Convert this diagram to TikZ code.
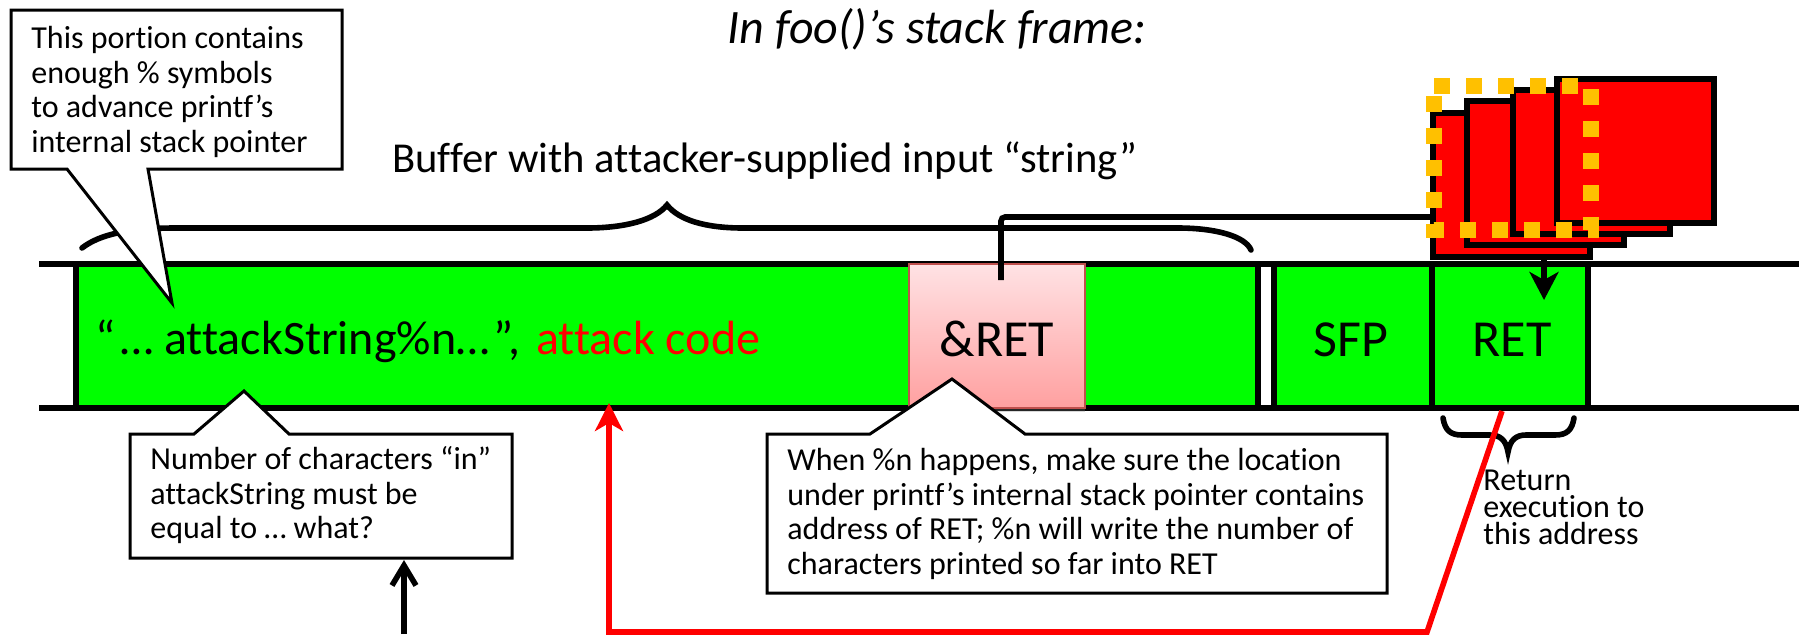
\documentclass[tikz,border=0pt]{standalone}
\usepackage{fontspec}
\setmainfont{Carlito}[Ligatures=NoCommon]
\usetikzlibrary{arrows.meta,shadows}
\definecolor{dotorange}{HTML}{FFC000}
\definecolor{addrtop}{HTML}{FFE2E4}
\definecolor{addrbot}{HTML}{FFA0A0}
\definecolor{addredge}{HTML}{C0504D}
\begin{document}
\begin{tikzpicture}[
x=0.5pt,y=-0.5pt,
cell/.style={rectangle, draw=black, fill=green, line width=3pt, inner sep=0pt, minimum height=72pt},
page/.style={rectangle, draw=black, fill=red, line width=3pt, minimum width=78.5pt, minimum height=72pt},
callout/.style={draw=black, fill=white, line width=1.5pt, line join=miter},
wire/.style={draw=black, line width=2.8pt},
brace/.style={draw=black, line width=2.8pt, line cap=round},
redwire/.style={draw=red, line width=2.8pt},
note/.style={anchor=north west, align=left, inner sep=0pt, font=\fontsize{16}{17.3}\selectfont},
label/.style={anchor=base west, inner sep=0pt},
big/.style={anchor=base, inner sep=0pt, font=\fontsize{26}{30}\selectfont},
]
\useasboundingbox (0,0) rectangle (1799,634);

\node (title) [label, font=\fontsize{24}{28}\itshape\selectfont] at (727,43) {In foo()’s stack frame:};
\node (buflabel) [label, font=\fontsize{21.3}{25}\selectfont] at (392,172) {Buffer with attacker-supplied input “string”};

\draw[wire] (39,264) -- (1799,264);
\draw[wire] (39,408) -- (1799,408);

\node (buffer) [cell, minimum width=591pt] at (667,336) {};
\node (sfp) [cell, minimum width=79pt] at (1353,336) {};
\node (ret) [cell, minimum width=78pt] at (1510,336) {};
\node (attack) [label, font=\fontsize{24}{28}\selectfont] at (95,354) {“\hspace{2.5pt}… attackString\%n…\hspace{2pt}”,};
\node (code) [label, font=\fontsize{24}{28}\selectfont, text=red] at (536,354) {attack code};
\node (addr) [rectangle, draw=addredge, line width=1pt, top color=addrtop, bottom color=addrbot, minimum width=88pt, minimum height=72pt, inner sep=0pt, drop shadow={shadow xshift=0pt, shadow yshift=-2pt, opacity=.3}] at (997,336) {};
\node (addrtext) [big] at (997,356) {\&RET};
\node (sfptext) [big] at (1351,356) {SFP};
\node (rettext) [big] at (1512,356) {RET};

% braces
\draw[brace] (82,248) .. controls (100,234) and (130,228) .. (175,228) -- (587,228) .. controls (625,228) and (655,220) .. (667,205) .. controls (679,220) and (705,228) .. (743,228) -- (1178,228) .. controls (1215,228) and (1245,236) .. (1251,250);
\draw[brace] (1443,418) .. controls (1445,430) and (1450,435) .. (1462,435) -- (1490,435) .. controls (1500,435) and (1506,440) .. (1508,452) .. controls (1510,440) and (1516,435) .. (1526,435) -- (1555,435) .. controls (1567,435) and (1572,430) .. (1574,418);

\node foreach \n/\x/\y in {4/1511.5/185,3/1545.5/173,2/1591.5/162,1/1635.5/151} at (\x,\y) [page, name=page\n] {};
\draw[dotorange, line width=8pt, dash pattern=on 8pt off 8pt] (1434,86) -- (1591,86) -- (1591,230) -- (1434,230) -- cycle;

\coordinate (addrfoot) at (1001,280);
\coordinate (hook) at (1433,217);
\draw[wire, rounded corners=2pt] (addrfoot) |- (hook);
\coordinate (pagefoot) at (1544,257);
\coordinate (rettip) at (1544,300);
\draw[wire, -{Stealth[length=14pt,width=14.5pt,inset=4pt]}] (pagefoot) -- (rettip);

\coordinate (retfoot) at (1502,411);
\coordinate (bend) at (1427,632);
\coordinate (corner) at (609,632);
\coordinate (codetip) at (609,403);
\draw[redwire, line join=miter, -{Stealth[length=14pt,width=14pt,inset=4pt]}] (retfoot) -- (bend) -- (corner) -- (codetip);

\coordinate (quizfoot) at (404,634);
\coordinate (quiztip) at (404,560);
\draw[wire, -{Straight Barb[length=10pt,width=12pt]}] (quizfoot) -- (quiztip);

% callouts
\draw[callout] (11,10) -- (342,10) -- (342,169) -- (148,169) -- (172,303) -- (67,169) -- (11,169) -- cycle;
\node (portion) [note] at (31,26) {This portion contains\\enough \% symbols\\to advance printf’s\\internal stack pointer};
\draw[callout] (130,434) -- (194,434) -- (244,391) -- (289,434) -- (512,434) -- (512,558) -- (130,558) -- cycle;
\node (count) [note] at (150,446) {Number of characters “in”\\attackString must be\\equal to … what?};
\draw[callout] (767,434) -- (870,434) -- (952,379) -- (1025,434) -- (1387,434) -- (1387,593) -- (767,593) -- cycle;
\node (when) [note] at (787,448) {When \%n happens, make sure the location\\under printf’s internal stack pointer contains\\address of RET; \%n will write the number of\\characters printed so far into RET};

\node (return) [note, font=\fontsize{16}{13.5}\selectfont] at (1483,470) {Return\\execution to\\this address};
\end{tikzpicture}
\end{document}
